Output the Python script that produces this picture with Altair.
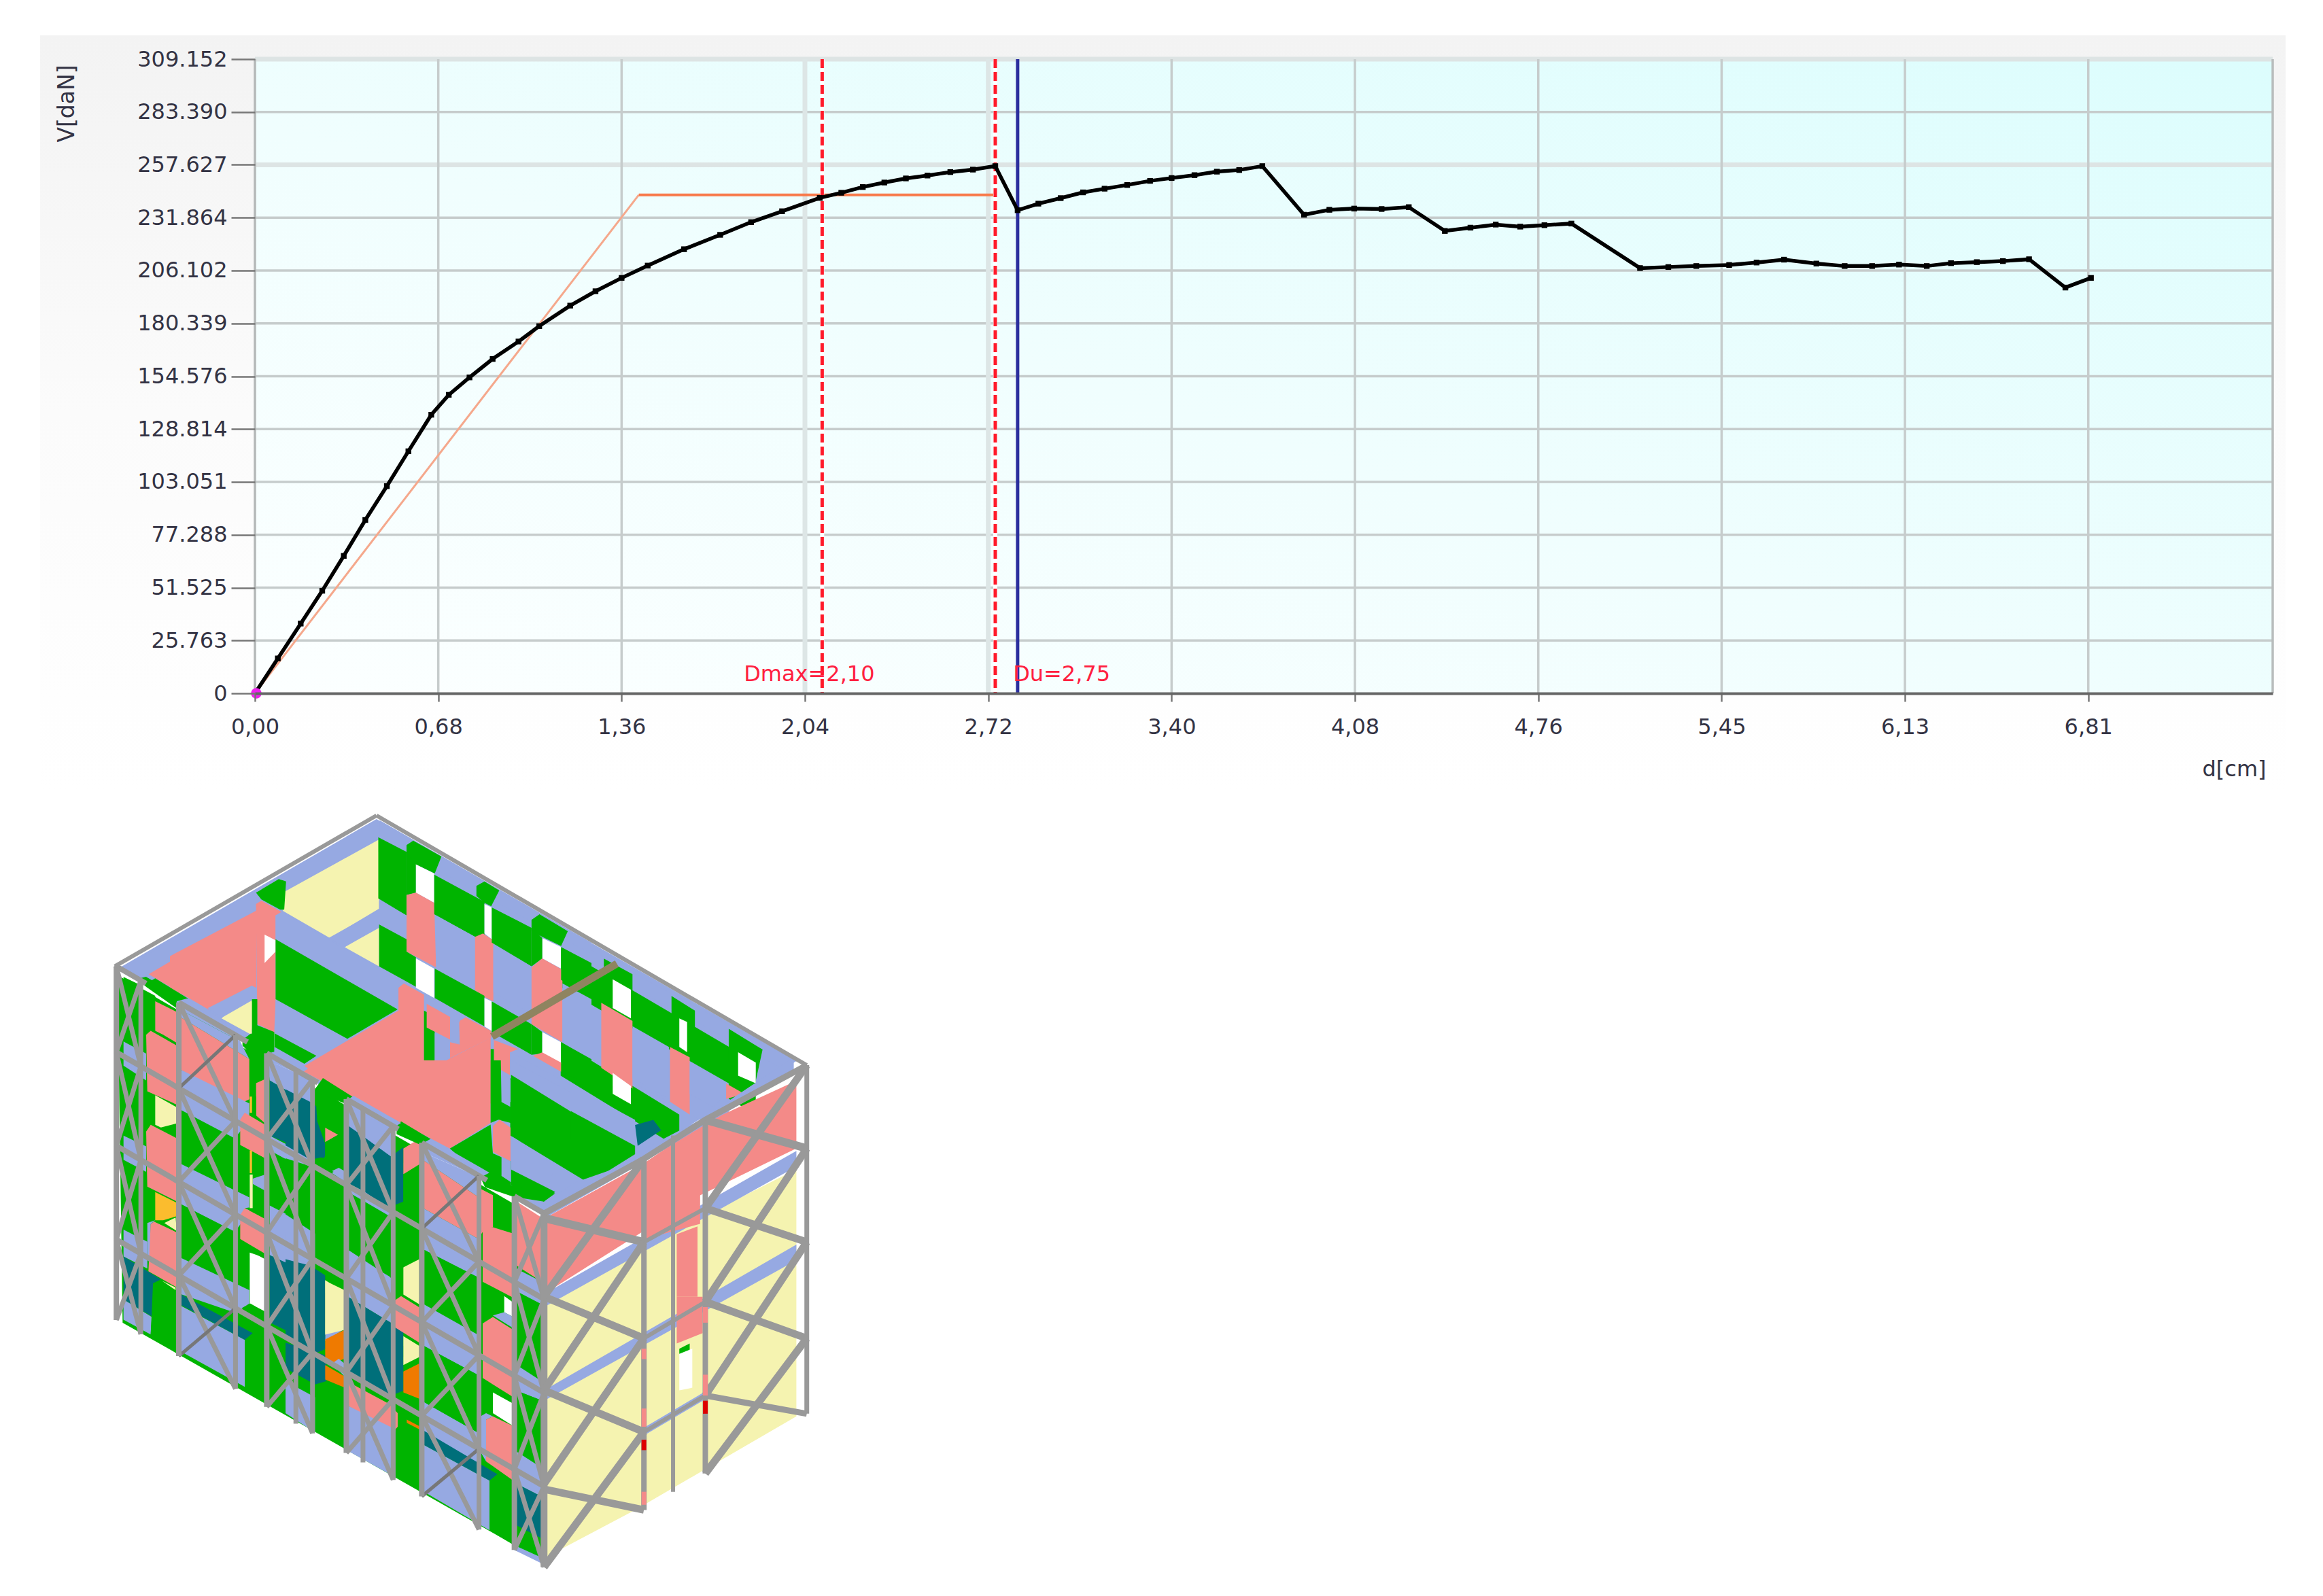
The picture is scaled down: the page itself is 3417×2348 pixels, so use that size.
import altair as alt
import pandas as pd

# ---------- chart values ----------
X_TICKS = [0, 0.681, 1.362, 2.043, 2.724, 3.405, 4.086, 4.767, 5.448, 6.129, 6.81]
X_LABELS = ["0,00", "0,68", "1,36", "2,04", "2,72", "3,40", "4,08", "4,76", "5,45", "6,13", "6,81"]
Y_TICKS = [0, 25763, 51525, 77288, 103051, 128814, 154576, 180339, 206102, 231864, 257627, 283390, 309152]
Y_LABELS = ["0", "25.763", "51.525", "77.288", "103.051", "128.814", "154.576", "180.339", "206.102",
            "231.864", "257.627", "283.390", "309.152"]
CURVE_X = [0, .085, .17, .25, .33, .41, .49, .57, .655, .72, .797, .883, .979, 1.056, 1.171, 1.265, 1.362, 1.459,
           1.594, 1.728, 1.843, 1.958, 2.098, 2.178, 2.258, 2.338, 2.418, 2.498, 2.583, 2.667, 2.75, 2.833, 2.91,
           2.993, 3.076, 3.156, 3.24, 3.325, 3.405, 3.49, 3.573, 3.656, 3.742, 3.897, 3.991, 4.083, 4.185, 4.286,
           4.42, 4.515, 4.609, 4.70, 4.79, 4.89, 5.145, 5.25, 5.354, 5.476, 5.578, 5.68, 5.80, 5.905, 6.007, 6.107,
           6.21, 6.30, 6.396, 6.493, 6.59, 6.725, 6.82]
CURVE_Y = [0, 17000, 34000, 50000, 67000, 84500, 101000, 118000, 135800, 145500, 154000, 163000, 171500, 179000,
           189000, 196000, 202500, 208500, 216500, 223500, 229700, 235000, 241500, 244000, 246800, 249000, 251000,
           252400, 254100, 255300, 257000, 235500, 238700, 241400, 244200, 246000, 247800, 249800, 251200, 252600,
           254300, 255100, 257000, 233300, 235700, 236300, 236100, 237000, 225400, 227000, 228500, 227500, 228200,
           229000, 207300, 207800, 208300, 208800, 210000, 211400, 209500, 208300, 208300, 209000, 208300, 209700,
           210200, 210700, 211600, 197800, 202500]
BILINEAR_X = [0, 1.426, 2.75]
BILINEAR_Y = [0, 243000, 243000]
DMAX, DEND, DU = 2.107, 2.75, 2.833
NOTES = [("Dmax=2,10", 1.816, 9400), ("Du=2,75", 2.816, 9400)]
XMAX = 7.495

Y, P, G, B, T, O, A, W = "#f5f3b0", "#f48a88", "#00b400", "#96a9e2", "#006f7a", "#ef7a00", "#fbbc2e", "#ffffff"

ROOF_BASE = [
 (B, [(95,360),(593,72),(1400,537),(915,830)]),
 (B, [(593,75),(597,105),(415,205),(150,375),(105,360)]),
 (P, [(155,370),(362,248),(362,395),(270,438)]),
 (B, [(270,435),(360,392),(360,420),(295,455)]),
 (Y, [(295,455),(355,422),(355,470),(350,485)]),
 (G, [(130,380),(150,375),(345,490),(300,500)]),
]
BACK_RIGHT = [
 (G, [(947,320),(1322,540),(1322,640),(947,420)]),
 (B, [(947,395),(1270,580),(1270,680),(947,500)]),
 (G, [(947,500),(1175,640),(1175,705),(947,565)]),
 (B, [(947,292),(1395,535),(1370,550),(947,320)]),
 (G, [(1030,340),(1085,370),(1085,445),(1030,410)]),
 (W, [(1047,380),(1082,400),(1082,455),(1047,435)]),
 (P, [(1025,425),(1085,460),(1085,590),(1025,550)]),
 (B, [(1085,470),(1155,510),(1155,610),(1085,570)]),
 (W, [(1047,560),(1082,585),(1082,620),(1047,600)]),
 (G, [(1160,412),(1205,440),(1205,510),(1160,480)]),
 (W, [(1175,455),(1190,462),(1190,520),(1175,510)]),
 (P, [(1157,510),(1195,530),(1195,640),(1157,615)]),
 (B, [(1195,540),(1265,580),(1265,600),(1240,625),(1195,600)]),
 (G, [(1270,475),(1335,515),(1322,575),(1270,540)]),
 (W, [(1288,520),(1322,540),(1322,580),(1288,565)]),
 (P, [(1265,580),(1300,600),(1265,610)]),
]
TOP_VIEW = [
 (B, [(0,580),(770,50),(780,130),(420,365),(320,450),(0,660)]),
 (B, [(780,50),(1568,590),(1568,640),(780,130)]),
 (Y, [(420,370),(778,135),(778,440),(595,570),(420,450)]),
 (G, [(320,370),(405,310),(432,320),(425,445),(410,445),(340,400)]),
 (Y, [(650,610),(778,525),(778,695)]),
 (B, [(590,570),(778,445),(778,520),(650,610)]),
 (G, [(775,125),(880,190),(880,470),(775,395)]),
 (G, [(880,160),(905,140),(1010,210),(985,285),(915,245),(880,220)]),
 (G, [(880,190),(915,245),(915,370),(880,380)]),
 (W, [(915,245),(983,285),(983,415),(915,370)]),
 (P, [(880,380),(915,370),(983,415),(990,700),(880,630)]),
 (B, [(778,405),(880,470),(880,580),(778,510)]),
 (G, [(778,510),(880,575),(880,630),(915,655),(915,785),(778,695)]),
 (W, [(915,660),(983,705),(983,835),(915,790)]),
 (G, [(983,290),(1170,410),(1170,560),(1135,565),(983,465)]),
 (G, [(1140,340),(1170,320),(1225,360),(1195,430),(1170,415),(1140,385)]),
 (W, [(1170,420),(1197,435),(1197,575),(1170,550)]),
 (B, [(990,470),(1135,565),(1135,800),(990,705)]),
 (P, [(1135,565),(1165,550),(1203,580),(1203,850),(1170,830),(1135,800)]),
 (G, [(985,705),(1170,825),(1170,960),(985,835)]),
 (W, [(1170,835),(1197,850),(1197,980),(1170,960)]),
 (G, [(1197,435),(1345,525),(1345,695),(1197,590)]),
 (G, [(1345,490),(1375,465),(1480,540),(1455,605),(1385,565),(1345,540)]),
 (W, [(1385,570),(1455,610),(1455,705),(1385,660)]),
 (G, [(1345,525),(1385,570),(1385,660),(1345,695)]),
 (B, [(1203,600),(1345,695),(1345,905),(1203,810)]),
 (P, [(1345,700),(1385,660),(1460,710),(1460,1030),(1345,950)]),
 (G, [(1197,850),(1345,950),(1345,1085),(1197,985)]),
 (G, [(1345,950),(1385,985),(1385,1080),(1345,1085)]),
 (W, [(1385,985),(1455,1030),(1455,1125),(1385,1080)]),
 (G, [(1455,610),(1568,680),(1568,820),(1455,755)]),
 (B, [(1460,770),(1568,840),(1568,1100),(1460,1030)]),
 (G, [(1455,1030),(1568,1105),(1568,1220),(1455,1160)]),
 (P, [(1385,1075),(1455,1120),(1455,1160),(1350,1090)]),
 (P, [(0,650),(320,450),(320,790),(140,880),(0,790)]),
 (P, [(320,420),(340,405),(415,455),(393,470),(393,990),(325,950)]),
 (W, [(352,555),(393,580),(393,630),(352,680)]),
 (B, [(393,470),(415,455),(870,770),(850,780),(847,880),(393,575)]),
 (G, [(393,575),(847,885),(660,1015),(393,840)]),
 (B, [(393,845),(655,1020),(530,1100),(388,985)]),
 (G, [(388,990),(545,1090),(500,1125),(388,1050)]),
 (W, [(352,970),(388,990),(388,1050),(352,1025)]),
 (P, [(500,1135),(850,890),(850,790),(870,770),(945,820),(945,1160),(1193,1010),(1193,1300),(690,1300)]),
 (G, [(945,890),(985,915),(985,1130),(945,1160)]),
 (B, [(985,990),(1042,1025),(1042,1095),(985,1130)]),
 (P, [(955,860),(1090,950),(1078,1040),(955,965)]),
 (B, [(1042,920),(1075,900),(1078,1040),(1042,1020)]),
 (P, [(1078,935),(1100,920),(1195,980),(1195,1010),(1042,1100),(1042,1030),(1078,1040)]),
 (P, [(1205,1020),(1295,1060),(1265,1075),(1265,1175),(1205,1135)]),
 (G, [(1193,1060),(1205,1060),(1205,1300),(1193,1300)]),
 (B, [(140,880),(305,780),(320,790),(320,840),(195,920)]),
 (Y, [(195,920),(305,845),(305,995)]),
 (G, [(305,840),(325,840),(325,955),(388,985),(388,1210),(305,1190)]),
]
RIGHT_INSIDE = [
 (B, [(850,520),(1090,650),(1090,700),(850,570)]),
 (G, [(850,570),(1090,700),(1090,730),(990,765),(850,680)]),
 (B, [(850,680),(985,765),(910,810),(850,775)]),
 (T, [(1090,660),(1125,650),(1140,670),(1095,700)]),
 (G, [(95,372),(915,845),(915,1500),(105,1040)]),
]
FRONT_LEFT = [
 (G, [(65,145),(140,175),(140,420),(65,385)]),
 (G, [(65,475),(140,510),(140,770),(65,735)]),
 (G, [(65,825),(140,860),(140,1120),(65,1085)]),
 (G, [(150,190),(205,215),(205,430),(150,410)]),
 (G, [(150,520),(205,550),(205,780),(150,760)]),
 (G, [(150,865),(205,890),(205,1120),(150,1130)]),
 (G, [(165,170),(205,150),(350,225),(320,245),(205,190)]),
 (B, [(65,385),(165,430),(165,530),(65,475)]),
 (B, [(65,735),(165,775),(165,870),(65,825)]),
 (B, [(65,1085),(170,1130),(170,1230),(65,1185)]),
 (T, [(65,1185),(230,1270),(195,1285),(195,1410),(65,1345)]),
 (B, [(65,1345),(190,1410),(185,1475),(65,1420)]),
 (P, [(205,235),(300,275),(300,390),(240,360),(205,345)]),
 (P, [(165,360),(185,345),(300,400),(300,620),(170,570)]),
 (Y, [(205,585),(300,630),(300,690),(230,705),(205,695)]),
 (P, [(165,720),(185,695),(300,745),(300,980),(170,925)]),
 (A, [(205,945),(300,985),(300,1035),(240,1050),(205,1050)]),
 (Y, [(245,1060),(295,1040),(300,1090)]),
 (B, [(170,1060),(205,1050),(185,1065),(185,1190),(170,1190)]),
 (P, [(185,1065),(200,1055),(300,1095),(300,1300),(175,1240)]),
 (Y, [(235,1275),(295,1300),(295,1310)]),
 (G, [(195,1290),(225,1280),(300,1320),(300,1530),(185,1475)]),
 (B, [(300,260),(580,385),(620,450),(318,295)]),
 (P, [(318,295),(620,450),(620,600),(570,620),(318,490)]),
 (B, [(318,490),(620,615),(620,680),(555,745),(318,640)]),
 (G, [(318,640),(620,780),(620,960),(570,970),(318,840)]),
 (B, [(318,840),(620,965),(620,1020),(555,1095),(318,990)]),
 (G, [(318,990),(620,1120),(620,1300),(570,1320),(318,1190)]),
 (B, [(318,1190),(620,1310),(620,1360),(560,1395),(318,1325)]),
 (T, [(318,1325),(635,1470),(600,1495),(318,1365)]),
 (B, [(300,1360),(600,1495),(600,1670),(300,1530)]),
 (W, [(622,1170),(690,1190),(690,1390),(622,1360)]),
 (G, [(635,1155),(690,1180),(690,1195),(635,1170)]),
 (P, [(580,675),(600,650),(690,695),(690,820),(580,770)]),
 (P, [(580,1030),(600,1005),(690,1045),(690,1175),(580,1120)]),
 (G, [(590,370),(630,355),(725,405),(690,425),(690,525),(630,530),(630,435),(590,400)]),
 (P, [(650,540),(690,525),(690,690),(650,660)]),
 (G, [(630,580),(650,590),(650,660),(630,650)]),
 (A, [(622,590),(632,590),(632,650),(622,650)]),
 (A, [(622,790),(632,790),(632,875),(622,875)]),
 (G, [(635,795),(690,820),(690,880),(635,890)]),
 (B, [(635,895),(690,880),(690,950),(635,925)]),
 (G, [(635,915),(690,940),(690,1040),(600,1005),(635,1000)]),
 (Y, [(622,880),(635,880),(635,1005),(622,1005)]),
 (B, [(300,235),(345,225),(620,360),(580,385),(300,260)]),
 (B, [(700,430),(745,420),(940,515),(905,530),(700,455)]),
 (B, [(700,455),(905,530),(890,620),(710,530)]),
 (T, [(710,530),(890,620),(950,690),(950,820),(710,735)]),
 (G, [(915,555),(1040,620),(1040,740),(955,710),(920,690)]),
 (P, [(955,705),(1010,735),(955,760)]),
 (G, [(955,760),(1010,735),(1040,745),(1040,860),(985,870),(955,870)]),
 (B, [(985,875),(1010,855),(1040,870),(1040,905)]),
 (B, [(710,735),(905,820),(905,880),(710,790)]),
 (G, [(710,790),(905,880),(905,1080),(710,995)]),
 (B, [(710,995),(905,1080),(905,1260),(710,1180)]),
 (T, [(710,1180),(890,1250),(950,1260),(950,1530),(710,1430)]),
 (G, [(910,875),(1040,935),(1040,1300),(910,1240)]),
 (G, [(1040,960),(1235,1050),(1235,1260),(1040,1170)]),
 (Y, [(955,1275),(1040,1310),(1040,1430),(955,1470)]),
 (B, [(955,1470),(1040,1430),(1040,1455),(955,1500)]),
 (B, [(1040,620),(1240,720),(1240,785),(1050,700)]),
 (T, [(1050,700),(1240,785),(1240,990),(1050,910)]),
 (B, [(1050,910),(1240,990),(1240,1050),(1050,960)]),
 (B, [(1050,1170),(1240,1260),(1240,1420),(1050,1330)]),
 (B, [(1040,590),(1085,590),(1240,680),(1240,720),(1040,620)]),
 (G, [(600,1500),(640,1480),(695,1505),(695,1700),(600,1650)]),
 (G, [(590,1375),(625,1360),(695,1395),(695,1445),(590,1400)]),
 (G, [(590,1415),(695,1465),(695,1480),(600,1440)]),
]
FRONT_RIGHT = [
 (P, [(80,35),(150,0),(905,0),(905,195),(725,275)]),
 (B, [(995,0),(1260,100),(1260,165),(995,45)]),
 (G, [(995,45),(1260,160),(1260,320),(995,235)]),
 (B, [(995,240),(1190,330),(1140,435),(995,340)]),
 (G, [(995,340),(1190,410),(1140,440),(995,390)]),
 (B, [(953,40),(993,60),(993,130),(953,130)]),
 (G, [(905,0),(950,0),(953,130),(993,145),(993,195),(940,185),(905,195)]),
 (G, [(725,275),(905,200),(915,290),(995,315),(995,390),(1190,415),(1140,440),(1005,425),(880,395),(850,350)]),
 (P, [(915,205),(945,185),(993,210),(993,315),(915,285)]),
 (B, [(953,300),(995,315),(995,380),(953,360)]),
 (T, [(0,90),(110,130),(140,145),(175,150),(175,300),(110,310),(0,265)]),
 (G, [(130,85),(260,150),(260,290),(175,260),(140,190)]),
 (G, [(135,85),(165,55),(300,115),(265,135),(135,100)]),
 (B, [(270,140),(465,215),(465,300),(270,200)]),
 (T, [(270,200),(465,300),(520,270),(520,440),(450,460),(270,370)]),
 (P, [(175,210),(232,232),(175,255)]),
 (G, [(175,255),(232,232),(260,245),(260,330),(205,345),(175,345)]),
 (B, [(205,345),(235,335),(260,345),(260,365)]),
 (G, [(0,305),(110,330),(130,355),(130,640),(0,590)]),
 (G, [(130,355),(260,410),(260,690),(130,640)]),
 (G, [(275,410),(470,490),(470,670),(340,610),(275,590)]),
 (B, [(0,480),(130,540),(130,670),(0,620)]),
 (T, [(0,620),(110,640),(175,670),(175,900),(110,920),(0,860)]),
 (T, [(0,880),(180,920),(180,1000),(130,1010),(0,960)]),
 (Y, [(175,685),(260,725),(260,840),(175,855)]),
 (O, [(175,870),(260,840),(260,930),(205,945),(175,945)]),
 (O, [(175,950),(260,985),(260,1020),(175,995)]),
 (B, [(205,945),(235,930),(260,945),(260,985)]),
 (B, [(275,590),(470,680),(470,820),(270,735)]),
 (T, [(270,735),(470,820),(520,830),(520,1030),(450,1050),(270,970)]),
 (Y, [(520,640),(590,620),(590,760),(520,730)]),
 (Y, [(520,860),(590,890),(590,925),(520,950)]),
 (O, [(520,970),(590,945),(590,1055),(520,1035)]),
 (P, [(478,750),(510,735),(590,770),(590,880),(478,830)]),
 (G, [(470,490),(590,520),(590,620),(520,645),(470,670)]),
 (G, [(470,1050),(520,1040),(590,1080),(590,1120),(470,1070)]),
 (G, [(490,1090),(590,1125),(590,1150),(490,1115)]),
 (O, [(535,1120),(590,1140),(590,1150),(535,1130)]),
 (P, [(270,1000),(455,1070),(495,1100),(495,1160),(460,1150),(270,1075)]),
 (B, [(270,1075),(485,1150),(485,1300),(270,1215)]),
 (G, [(485,1150),(510,1130),(590,1155),(590,1340),(485,1295)]),
 (G, [(140,1010),(260,1065),(260,1200),(140,1155)]),
 (B, [(0,1000),(130,1050),(130,1160),(0,1100)]),
 (B, [(610,1065),(860,1165),(860,1290),(600,1150)]),
 (T, [(600,1150),(935,1290),(900,1310),(600,1195)]),
 (B, [(600,1195),(900,1310),(900,1465),(600,1340)]),
 (G, [(900,1310),(940,1300),(1005,1320),(1005,1510),(900,1465)]),
 (B, [(1005,1510),(1130,1550),(1130,1568),(1005,1525)]),
 (B, [(600,285),(860,365),(860,430),(605,310)]),
 (P, [(605,310),(860,430),(860,560),(605,460)]),
 (B, [(605,460),(860,560),(860,680),(610,590)]),
 (P, [(520,275),(600,240),(600,320),(520,355)]),
 (G, [(520,355),(590,335),(590,460),(520,440)]),
 (G, [(610,590),(860,680),(860,860),(610,760)]),
 (G, [(860,695),(960,735),(960,785),(910,805),(860,800)]),
 (W, [(965,735),(1005,755),(1005,800),(965,785)]),
 (B, [(610,760),(860,860),(860,985),(610,890)]),
 (P, [(860,400),(915,420),(915,520),(880,525),(860,545)]),
 (G, [(915,415),(1005,450),(1005,540),(915,490)]),
 (P, [(870,520),(915,520),(1005,540),(1005,740),(870,690)]),
 (G, [(610,890),(860,985),(860,1165),(610,1065)]),
 (G, [(860,1000),(915,1030),(915,1100),(880,1110),(860,1160)]),
 (W, [(915,1035),(1005,1070),(1005,1140),(915,1100)]),
 (P, [(870,820),(915,800),(1005,840),(1005,1050),(870,990)]),
 (B, [(915,795),(965,785),(1005,800),(1005,835)]),
 (B, [(860,1110),(885,1100),(915,1110),(885,1120),(885,1250),(860,1220)]),
 (P, [(885,1120),(915,1110),(1005,1140),(1005,1310),(885,1250)]),
 (G, [(490,205),(510,190),(640,245),(600,265),(490,230)]),
 (B, [(270,125),(300,110),(510,195),(465,215),(270,140)]),
 (B, [(600,260),(640,245),(900,350),(860,365),(600,285)]),
 (B, [(1020,650),(1130,690),(1130,760),(1020,720)]),
 (P, [(1020,440),(1130,490),(1130,690),(1020,640)]),
 (G, [(1020,730),(1130,770),(1130,1000),(1020,950)]),
 (B, [(1020,950),(1130,1000),(1130,1060),(1020,1030)]),
 (G, [(1020,1030),(1130,1060),(1130,1270),(1020,1220)]),
 (B, [(1020,1220),(1130,1270),(1130,1360),(1020,1320)]),
 (T, [(1020,1320),(1130,1360),(1130,1490),(1020,1450)]),
]
SIDE_FACE = [
 (Y, [(915,990),(1400,745),(1400,1220),(1090,1400),(920,1490)]),
 (P, [(915,840),(1105,735),(1215,660),(1400,575),(1400,705),(1215,795),(915,985)]),
 (B, [(915,825),(1100,710),(1215,650),(1395,530),(1395,560),(1215,665),(1100,735),(915,840)]),
 (B, [(915,985),(1400,710),(1400,740),(915,1010)]),
 (B, [(915,1170),(1400,890),(1400,920),(915,1190)]),
 (P, [(1105,740),(1215,670),(1215,850),(1105,880)]),
 (P, [(1170,870),(1210,855),(1210,990),(1170,990)]),
 (P, [(1170,990),(1220,990),(1220,1060),(1170,1080)]),
 (G, [(1175,1090),(1195,1080),(1195,1105),(1175,1100)]),
 (W, [(1175,1100),(1200,1090),(1200,1165),(1175,1170)]),
 (B, [(1110,1240),(1220,1175),(1220,1190),(1110,1255)]),
]
GREY = "#999999"
FRONT_COLUMNS = [(93, 8), (140, 7), (213, 8), (322, 7), (382, 8), (438, 7), (470, 7), (535, 8), (567, 7),
                 (625, 7), (680, 8), (790, 7), (858, 8), (915, 10)]
LEVELS = [0, 165, 345, 525, 680]
BRACED_BAYS = [(93, 140), (213, 322), (382, 470), (535, 625), (680, 790), (858, 915)]
TOP_RUNS = [(90, 150), (213, 345), (382, 480), (535, 635), (680, 805), (858, 915)]
DOTTED_BAYS = [(213, 322), (680, 790)]
SIDE_LINES = [
 ([(593,65),(1420,545)], GREY, 6), ([(593,65),(90,355)], GREY, 6),
 ([(1107,725),(1107,1400)], GREY, 8), ([(1163,680),(1163,1365)], GREY, 6),
 ([(1225,650),(1225,1330)], GREY, 8), ([(1420,545),(1420,1215)], GREY, 7),
 ([(915,830),(1107,725),(1225,650),(1420,545)], GREY, 9),
 ([(1107,885),(1225,820)], GREY, 6), ([(1107,1070),(1225,1000)], GREY, 6), ([(1107,1250),(1225,1180)], GREY, 6),
 ([(920,840),(1107,885)], GREY, 12), ([(915,990),(1107,1070)], GREY, 11),
 ([(915,1170),(1107,1250)], GREY, 11), ([(915,1360),(1107,1400)], GREY, 11),
 ([(1225,650),(1420,705)], GREY, 12), ([(1225,820),(1420,885)], GREY, 11),
 ([(1225,1000),(1420,1070)], GREY, 11), ([(1225,1180),(1420,1215)], GREY, 9),
 ([(915,990),(1107,725)], GREY, 11), ([(915,1170),(1107,885)], GREY, 11),
 ([(915,1350),(1107,1070)], GREY, 11), ([(915,1510),(1107,1250)], GREY, 11),
 ([(1225,820),(1420,545)], GREY, 11), ([(1225,1000),(1420,705)], GREY, 11),
 ([(1225,1180),(1420,885)], GREY, 11), ([(1225,1330),(1420,1070)], GREY, 11),
 ([(815,490),(1055,350)], "#8f8460", 11),
 ([(1107,1090),(1107,1110)], P, 7), ([(1107,1205),(1107,1240)], P, 7), ([(1107,1265),(1107,1285)], "#dd0000", 7),
 ([(1107,1365),(1107,1390)], P, 7), ([(1225,1010),(1225,1040)], P, 7), ([(1225,1140),(1225,1180)], P, 7),
 ([(1225,1190),(1225,1215)], "#dd0000", 7),
]

# ---------- layout ----------
W_PLOT, H_PLOT = 2968, 933
LEFT, TOP = 375, 87
FONT = "DejaVu Sans"
TXT = "#333344"
YTOP = 309152


def to_x(px):
    return (px - LEFT) / W_PLOT * XMAX


def to_y(py):
    return (1 - (py - TOP) / H_PLOT) * YTOP


# each view: page x = x0 + x * kx, page y = y0 + y * ky
SKETCH = (100, 1150, 0.7653, 0.7653)
TOP_FRAME = (250, 1190, 1 / 2.529, 1 / 3)
FL_FRAME = (160, 1380, 1 / 3, 1 / 2.529)
FR_FRAME = (420, 1560, 1 / 3, 1 / 2.119)
SOURCES = [(SKETCH, ROOF_BASE), (SKETCH, BACK_RIGHT), (TOP_FRAME, TOP_VIEW), (SKETCH, RIGHT_INSIDE),
           (FL_FRAME, FRONT_LEFT), (FR_FRAME, FRONT_RIGHT), (SKETCH, SIDE_FACE)]


def front_y(x, level):
    return 355 + 0.5775 * (x - 93) + level


def chain(outline):
    """Turn a polygon outline into x / upper / lower rows that an area mark can fill."""
    xs_ = sorted({p[0] for p in outline})
    rows = []
    n = len(outline)
    eps = 0.01
    for x0 in xs_:
        for x in (x0 - eps, x0 + eps):
            if x < xs_[0] or x > xs_[-1]:
                continue
            hits = []
            for i in range(n):
                (ax, ay), (bx, by) = outline[i], outline[(i + 1) % n]
                if ax == bx:
                    continue
                if min(ax, bx) <= x <= max(ax, bx):
                    hits.append(ay + (by - ay) * (x - ax) / (bx - ax))
            if hits:
                rows.append((x, min(hits), max(hits)))
    return rows


area_rows = []
k = 0
for (x0, y0, kx, ky), polys in SOURCES:
    for colour, outline in polys:
        page = [(x0 + x * kx, y0 + y * ky) for x, y in outline]
        for x, up, low in chain(page):
            area_rows.append({"id": k, "c": colour, "x": to_x(x), "y": to_y(up), "y2": to_y(low)})
        k += 1

lines = []
for lv in LEVELS[1:4]:
    lines.append(([(93, front_y(93, lv)), (915, front_y(915, lv))], GREY, 8))
for a, b in TOP_RUNS:
    lines.append(([(a, front_y(a, 0)), (b, front_y(b, 0))], GREY, 8))
for a, b in BRACED_BAYS:
    for l0, l1 in zip(LEVELS[:-1], LEVELS[1:]):
        lines.append(([(a, front_y(a, l0)), (b, front_y(b, l1))], GREY, 7))
        dotted = (a, b) in DOTTED_BAYS and l0 in (LEVELS[0], LEVELS[3])
        lines.append(([(b, front_y(b, l0)), (a, front_y(a, l1))], "#777777" if dotted else GREY, 5 if dotted else 7))
for x, w in FRONT_COLUMNS:
    lines.append(([(x, front_y(x, 0)), (x, front_y(x, 680))], GREY, w))
lines.extend(SIDE_LINES)
line_rows = []
sk = SKETCH
for k, (pts, colour, w) in enumerate(lines):
    for i, (x, y) in enumerate(pts):
        line_rows.append({"id": k, "i": i, "c": colour, "w": w,
                          "x": to_x(sk[0] + x * sk[2]), "y": to_y(sk[1] + y * sk[3])})

xs = alt.Scale(domain=[0, XMAX], nice=False, zero=False)
ys = alt.Scale(domain=[0, YTOP], nice=False, zero=False)

x_axis = alt.Axis(values=X_TICKS, labelExpr=f"{X_LABELS}[indexof({X_TICKS}, datum.value)]", grid=False, zindex=1,
                  title="d[cm]", titleX=2911, titleY=111, titleAlign="center", titleBaseline="middle",
                  titleFont=FONT, titleFontSize=32, titleFontWeight="normal", titleColor=TXT,
                  labelFont=FONT, labelFontSize=32, labelColor=TXT, labelPadding=22, labelOverlap=False,
                  labelFlush=False, tickSize=12, tickWidth=2.5, tickColor="#777777",
                  domainColor="#666666", domainWidth=4)
y_axis = alt.Axis(values=Y_TICKS, labelExpr=f"{Y_LABELS}[indexof({Y_TICKS}, datum.value)]", grid=False, zindex=1,
                  title="V[daN]", titleX=98 - LEFT, titleY=152 - TOP, titleAngle=270, titleAlign="center",
                  titleBaseline="middle", titleFont=FONT, titleFontSize=33, titleFontWeight="normal", titleColor=TXT,
                  labelFont=FONT, labelFontSize=32, labelColor=TXT, labelPadding=6, labelOverlap=False,
                  labelFlush=False, tickSize=35, tickWidth=2.5, tickColor="#777777", domain=False)


def X(field):
    return alt.X(field, scale=xs, axis=x_axis)


def Y_(field):
    return alt.Y(field, scale=ys, axis=y_axis)


panel = alt.Chart(pd.DataFrame({"a": [0]})).mark_rect(
    color=alt.LinearGradient(gradient="linear", x1=0, x2=0, y1=0, y2=1,
                             stops=[alt.GradientStop(offset=0, color="#f3f3f3"),
                                    alt.GradientStop(offset=0.5, color="#fbfbfb"),
                                    alt.GradientStop(offset=1, color="#ffffff")])
).encode(x=alt.value(59 - LEFT), x2=alt.value(3362 - LEFT), y=alt.value(52 - TOP), y2=alt.value(1165 - TOP))

plot_bg = alt.Chart(pd.DataFrame({"a": [0]})).mark_rect(
    color=alt.LinearGradient(gradient="linear", x1=1, x2=0, y1=0, y2=1,
                             stops=[alt.GradientStop(offset=0, color="#dcfdfd"),
                                    alt.GradientStop(offset=0.55, color="#f0fefe"),
                                    alt.GradientStop(offset=1, color="#fcffff")])
).encode(x=alt.value(0), x2=alt.value(W_PLOT), y=alt.value(0), y2=alt.value(H_PLOT))

ygrid = pd.DataFrame({"v": Y_TICKS[1:],
                      "c": ["#dde4e4" if v in (257627, 309152) else "#c6cccc" for v in Y_TICKS[1:]],
                      "w": [7 if v in (257627, 309152) else 3.5 for v in Y_TICKS[1:]]})
xgrid = pd.DataFrame({"v": X_TICKS + [XMAX],
                      "c": ["#b4b8b8" if v == 0 else "#dde6e6" if v in (2.043, 2.724) else "#c6cccc" for v in X_TICKS]
                      + ["#b8bcbc"],
                      "w": [7 if v in (2.043, 2.724) else 3.5 for v in X_TICKS] + [3.5]})
ygrid_l = alt.Chart(ygrid).mark_rule().encode(
    y=Y_("v:Q"), color=alt.Color("c:N", scale=None), strokeWidth=alt.StrokeWidth("w:Q", scale=None))
xgrid_l = alt.Chart(xgrid).mark_rule().encode(
    x=X("v:Q"), color=alt.Color("c:N", scale=None), strokeWidth=alt.StrokeWidth("w:Q", scale=None))

curve_df = pd.DataFrame({"x": CURVE_X, "y": CURVE_Y})
curve = alt.Chart(curve_df).mark_line(color="#000000", strokeWidth=5.5).encode(x=X("x:Q"), y=Y_("y:Q"))
dots = alt.Chart(curve_df).mark_square(color="#000000", size=70, opacity=1).encode(x=X("x:Q"), y=Y_("y:Q"))
origin = alt.Chart(pd.DataFrame({"x": [0.005], "y": [0]})).mark_point(
    color="#ee22ee", filled=True, size=240, opacity=1).encode(x=X("x:Q"), y=Y_("y:Q"))

bil_rise = alt.Chart(pd.DataFrame({"x": BILINEAR_X[:2], "y": BILINEAR_Y[:2]})).mark_line(
    color="#f5a88c", strokeWidth=3).encode(x=X("x:Q"), y=Y_("y:Q"))
bil_flat = alt.Chart(pd.DataFrame({"x": BILINEAR_X[1:], "y": BILINEAR_Y[1:]})).mark_line(
    color="#f87a4b", strokeWidth=4).encode(x=X("x:Q"), y=Y_("y:Q"))

gap = alt.Chart(pd.DataFrame({"x": [DMAX, DEND]})).mark_rule(color="#ffffff", strokeWidth=6).encode(x=X("x:Q"))
dashed = alt.Chart(pd.DataFrame({"x": [DMAX, DEND]})).mark_rule(
    color="#ff1a2a", strokeWidth=5, strokeDash=[13, 6]).encode(x=X("x:Q"))
du = alt.Chart(pd.DataFrame({"x": [DU]})).mark_rule(color="#2b2f9e", strokeWidth=5).encode(x=X("x:Q"))
notes = alt.Chart(pd.DataFrame(NOTES, columns=["t", "x", "y"])).mark_text(
    color="#ff2040", font=FONT, fontSize=32, align="left", baseline="middle").encode(
    x=X("x:Q"), y=Y_("y:Q"), text="t:N")

b_fill = alt.Chart(pd.DataFrame(area_rows)).mark_area(interpolate="linear", opacity=1, strokeWidth=0).encode(
    x=X("x:Q"), y=Y_("y:Q"), y2="y2:Q", fill=alt.Fill("c:N", scale=None), detail="id:O")
b_line = alt.Chart(pd.DataFrame(line_rows)).mark_line(interpolate="linear", opacity=1).encode(
    x=X("x:Q"), y=Y_("y:Q"),
    color=alt.Color("c:N", scale=None), strokeWidth=alt.StrokeWidth("w:Q", scale=None),
    detail="id:O", order=alt.Order("i:Q"))

chart = alt.layer(panel, plot_bg, ygrid_l, xgrid_l, bil_rise, bil_flat, gap, dashed, du, curve, dots, origin, notes,
                  b_fill, b_line).properties(
    width=W_PLOT, height=H_PLOT,
    autosize=alt.AutoSizeParams(type="none"),
    padding={"left": LEFT - 8, "top": TOP - 8, "right": 3417 - 8 - LEFT - W_PLOT - 8, "bottom": 2348 - TOP - H_PLOT - 8},
    background="#ffffff",
).configure_view(stroke=None)

chart.save("out.html", embed_options={"renderer": "svg", "actions": False})
